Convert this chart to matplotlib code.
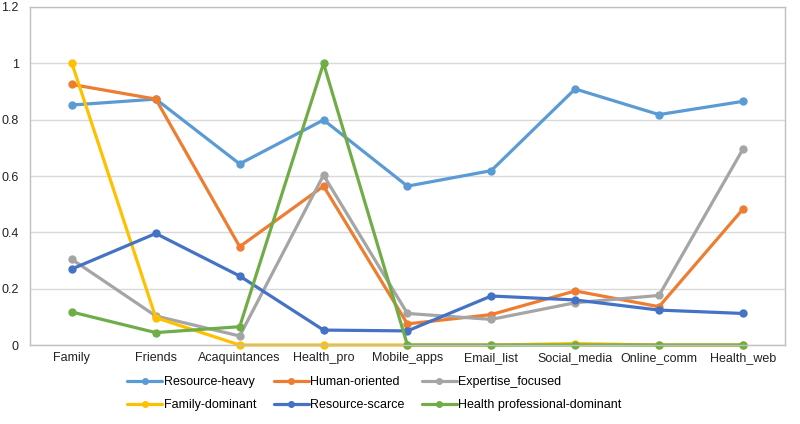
import matplotlib
matplotlib.use("Agg")
import matplotlib.pyplot as plt

categories = ["Family", "Friends", "Acaquintances", "Health_pro", "Mobile_apps",
              "Email_list", "Social_media", "Online_comm", "Health_web"]
resource_heavy = [0.852, 0.873, 0.643, 0.799, 0.564, 0.619, 0.909, 0.818, 0.865]
human_oriented = [0.925, 0.873, 0.349, 0.564, 0.075, 0.108, 0.192, 0.136, 0.482]
expertise_focused = [0.304, 0.103, 0.032, 0.603, 0.112, 0.091, 0.150, 0.176, 0.695]
family_dominant = [1.0, 0.097, 0.0, 0.0, 0.0, 0.0, 0.005, 0.0, 0.0]
resource_scarce = [0.270, 0.396, 0.245, 0.053, 0.050, 0.174, 0.160, 0.124, 0.112]
health_prof_dominant = [0.117, 0.044, 0.065, 1.0, 0.0, 0.0, 0.0, 0.0, 0.0]

series = [
    ("Resource-heavy", resource_heavy, "#5B9BD5"),
    ("Human-oriented", human_oriented, "#ED7D31"),
    ("Expertise_focused", expertise_focused, "#A5A5A5"),
    ("Family-dominant", family_dominant, "#FFC000"),
    ("Resource-scarce", resource_scarce, "#4472C4"),
    ("Health professional-dominant", health_prof_dominant, "#70AD47"),
]

plt.rcParams['font.family'] = ['Liberation Sans', 'DejaVu Sans']
fig = plt.figure(figsize=(8, 4.24), dpi=100)
ax = fig.add_axes([0.0375, 0.1863, 0.9435, 0.7972])
x = list(range(len(categories)))
handles = []
for name, vals, col in series:
    h, = ax.plot(x, vals, color=col, lw=2.3, marker="o", ms=5, label=name,
                 solid_capstyle="round", clip_on=False)
    handles.append(h)

ax.set_xlim(-0.5, len(categories) - 0.5)
ax.set_ylim(0, 1.2)
ax.set_yticks([0, 0.2, 0.4, 0.6, 0.8, 1.0, 1.2])
ax.set_yticklabels(["0", "0.2", "0.4", "0.6", "0.8", "1", "1.2"])
ax.set_xticks(x)
ax.set_xticklabels(categories)
ax.tick_params(axis="both", length=0, labelsize=9, colors="#222222")
ax.tick_params(axis="y", pad=8)
ax.tick_params(axis="x", pad=5)
ax.grid(axis="y", color="#D9D9D9", lw=1)
ax.set_axisbelow(True)
for s in ax.spines.values():
    s.set_color("#BFBFBF")
    s.set_linewidth(1)

# rows: first three series on top row, last three on bottom row
order = [0, 3, 1, 4, 2, 5]
ax.legend([handles[i] for i in order], [series[i][0] for i in order],
          loc="upper left", bbox_to_anchor=(0.124, -0.082), ncol=3, frameon=False,
          fontsize=9, handlelength=2.8, columnspacing=1.4, labelspacing=0.85,
          handletextpad=0.1, markerscale=0.8, borderaxespad=0, borderpad=0.3)

fig.savefig("out.png", dpi=100)
